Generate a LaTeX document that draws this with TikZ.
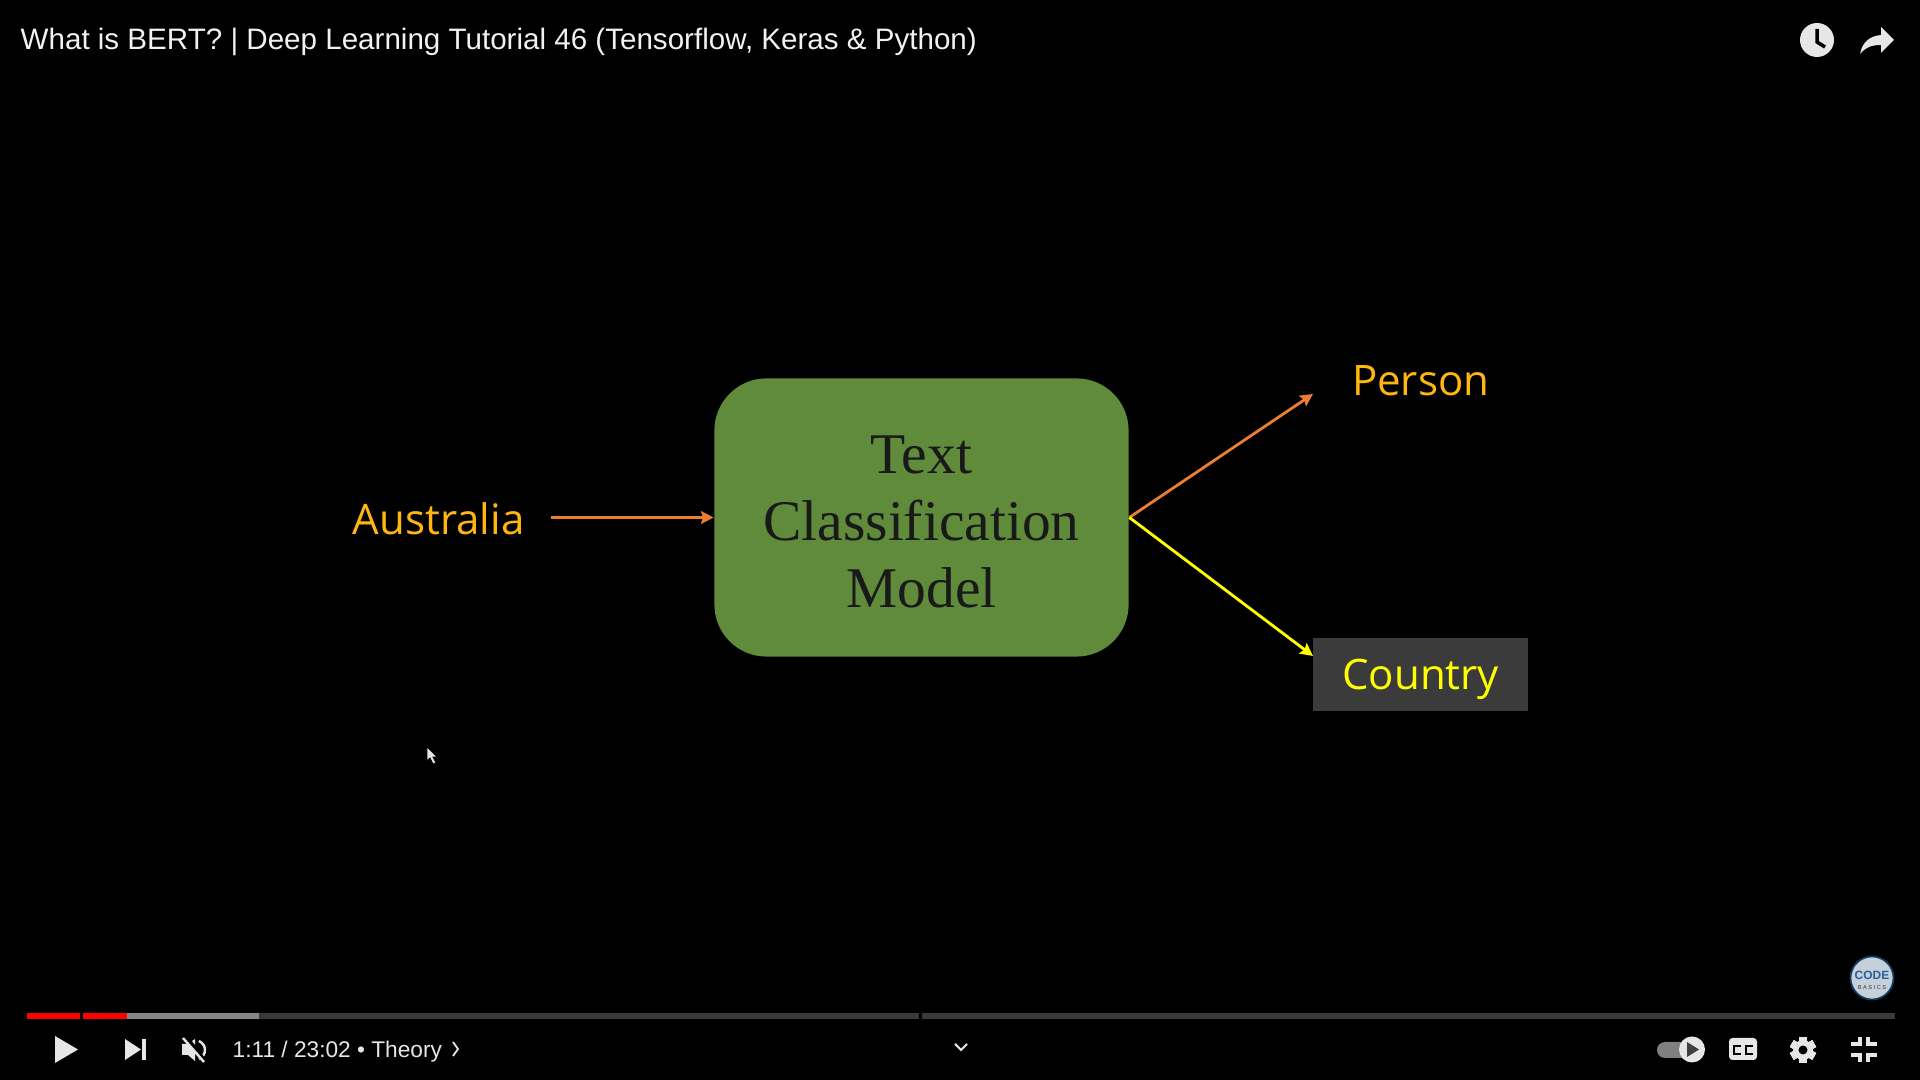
\documentclass[tikz,border=0pt]{standalone}
\usepackage{fontspec}
\setmainfont{Liberation Sans}
\newfontfamily\labelfont{Open Sans}
\newfontfamily\modelfont{Liberation Serif}
\usetikzlibrary{arrows.meta, positioning}
\definecolor{modelgreen}{HTML}{5F8B3B}
\definecolor{arroworange}{HTML}{ED7D31}
\definecolor{labelamber}{HTML}{FFB70F}
\definecolor{labelyellow}{HTML}{FFFF00}
\definecolor{countrygrey}{HTML}{3B3B3B}
\definecolor{iconwhite}{HTML}{E6E6E6}
\definecolor{trackgrey}{HTML}{3A3A3A}
\definecolor{logogrey}{HTML}{C5D0D8}
\definecolor{logoblue}{HTML}{2A5F9E}
\definecolor{logorim}{HTML}{123A63}

\begin{document}
\begin{tikzpicture}[
  x=0.01cm, y=-0.01cm,
  model/.style={fill=modelgreen, rounded corners=0.52cm, minimum width=4.14cm, minimum height=2.78cm, inner sep=0pt, align=center, text=black!90, font=\modelfont\fontsize{16.35}{19.06}\selectfont},
  label/.style={inner sep=0pt, text=labelamber, font=\labelfont\fontsize{11.95}{14}\selectfont},
  country/.style={fill=countrygrey, minimum width=2.15cm, minimum height=0.73cm, inner sep=0pt, text height=11.5pt, text depth=2.9pt, text=labelyellow, font=\labelfont\fontsize{11.95}{14}\selectfont},
  orangearrow/.style={draw=arroworange, line width=0.8pt, -{Stealth[length=3.6pt, width=3.6pt, inset=0.6pt]}},
  yellowarrow/.style={draw=labelyellow, line width=0.8pt, -{Stealth[length=3.6pt, width=3.6pt, inset=0.6pt]}},
  ui/.style={inner sep=0pt, text=iconwhite, font=\fontsize{6.45}{8}\selectfont}
]
\useasboundingbox (0,0) rectangle (1920,1080);
\fill[black] (0,0) rectangle (1920,1080);

% diagram
\node[model] (classifier) at (921.5,517.5) {\rule{0pt}{13pt}Text\\Classification\\Model};
\node[label, left=1.885cm of classifier, yshift=-0.015cm] (australia) {Australia};
\node[country, right=1.83cm of classifier, yshift=-1.57cm] (countrybox) {Country};
\node[label, above=2.41cm of countrybox] (person) {Person};
\coordinate (persontip) at (1313,394);
\coordinate (countrytip) at (1313,656);
\draw[orangearrow] ([xshift=0.26cm]australia.east |- classifier.west) -- (classifier.west);
\draw[orangearrow] (classifier.east) -- (persontip);
\draw[yellowarrow] (classifier.east) -- (countrytip);

% player title
\node[ui, anchor=west, font=\fontsize{8.41}{10}\selectfont, text=white!95!black] (title) at (20,42) {What is BERT? | Deep Learning Tutorial 46 (Tensorflow, Keras \& Python)};
\fill[iconwhite] (1817,40) circle[radius=17];
\draw[black, line width=1pt] (1817,29) -- (1817,42) -- (1825,47);
\fill[iconwhite] (1881,27) -- (1894,40) -- (1881,53) -- (1881,45) .. controls (1872,45) and (1866,47) .. (1860,54) .. controls (1862,43) and (1869,36) .. (1881,35) -- cycle;

% progress bar
\fill[red] (27,1013) rectangle (80,1019);
\fill[red] (83,1013) rectangle (127,1019);
\fill[gray!95] (127,1013) rectangle (259,1019);
\fill[trackgrey] (259,1013) rectangle (919,1019);
\fill[trackgrey] (922,1013) rectangle (1895,1019);

% left controls
\fill[iconwhite] (55,1036) -- (78,1049.5) -- (55,1063) -- cycle;
\fill[iconwhite] (125,1039) -- (141,1049.5) -- (125,1060) -- cycle;
\fill[iconwhite] (142,1039) rectangle (146,1060);
\fill[iconwhite] (182,1044) -- (188,1044) -- (195,1039) -- (195,1061) -- (188,1055) -- (182,1055) -- cycle;
\draw[iconwhite, line width=0.7pt] (199,1041) .. controls (207,1045) and (207,1055) .. (199,1059);
\draw[black, line width=1.3pt] (185,1036) -- (206,1063);
\draw[iconwhite, line width=0.7pt] (183,1038) -- (204,1062);
\node[ui, anchor=west] (time) at (232,1051.5) {1:11 / 23:02 • Theory};
\draw[iconwhite, line width=0.5pt] (453,1042) -- (458,1049) -- (453,1056);
\draw[iconwhite, line width=0.6pt] (955,1044) -- (961,1050) -- (967,1044);

% right controls
\fill[gray] (1665,1042) -- (1690,1042) -- (1690,1058) -- (1665,1058) arc[start angle=90, end angle=270, radius=8] -- cycle;
\fill[iconwhite] (1692,1049.5) circle[radius=13];
\fill[black!75] (1687,1042) -- (1699,1049.5) -- (1687,1057) -- cycle;
\fill[iconwhite, rounded corners=1pt] (1729,1038) rectangle (1757,1060);
\draw[black, line width=0.8pt] (1741,1046) -- (1734,1046) -- (1734,1054) -- (1741,1054);
\draw[black, line width=0.8pt] (1753,1046) -- (1746,1046) -- (1746,1054) -- (1753,1054);
\foreach \ang in {0,60,...,300}
  \fill[iconwhite, rotate around={\ang:(1803,1050)}] (1799,1037) rectangle (1807,1063);
\fill[iconwhite] (1803,1050) circle[radius=10];
\fill[black] (1803,1050) circle[radius=4.5];
\draw[iconwhite, line width=1pt] (1851,1044) -- (1860,1044) -- (1860,1037);
\draw[iconwhite, line width=1pt] (1868,1037) -- (1868,1044) -- (1877,1044);
\draw[iconwhite, line width=1pt] (1851,1055) -- (1860,1055) -- (1860,1062);
\draw[iconwhite, line width=1pt] (1868,1062) -- (1868,1055) -- (1877,1055);

% channel logo
\node[circle, fill=logogrey, draw=logorim, line width=0.5pt, minimum size=0.43cm, inner sep=0pt] (logo) at (1872,978) {};
\node[inner sep=0pt, text=logoblue, font=\bfseries\fontsize{3.4}{4}\selectfont] (logotop) at (1872,975) {CODE};
\node[inner sep=0pt, text=black!80, font=\fontsize{1.6}{2}\selectfont, below=0.05cm of logotop] (logobottom) {B A S I C S};

% mouse pointer
\fill[iconwhite, draw=black, line width=0.2pt] (427,747) -- (437,757) -- (433,757) -- (436,763) -- (433,764) -- (430,758) -- (427,761) -- cycle;
\end{tikzpicture}
\end{document}
